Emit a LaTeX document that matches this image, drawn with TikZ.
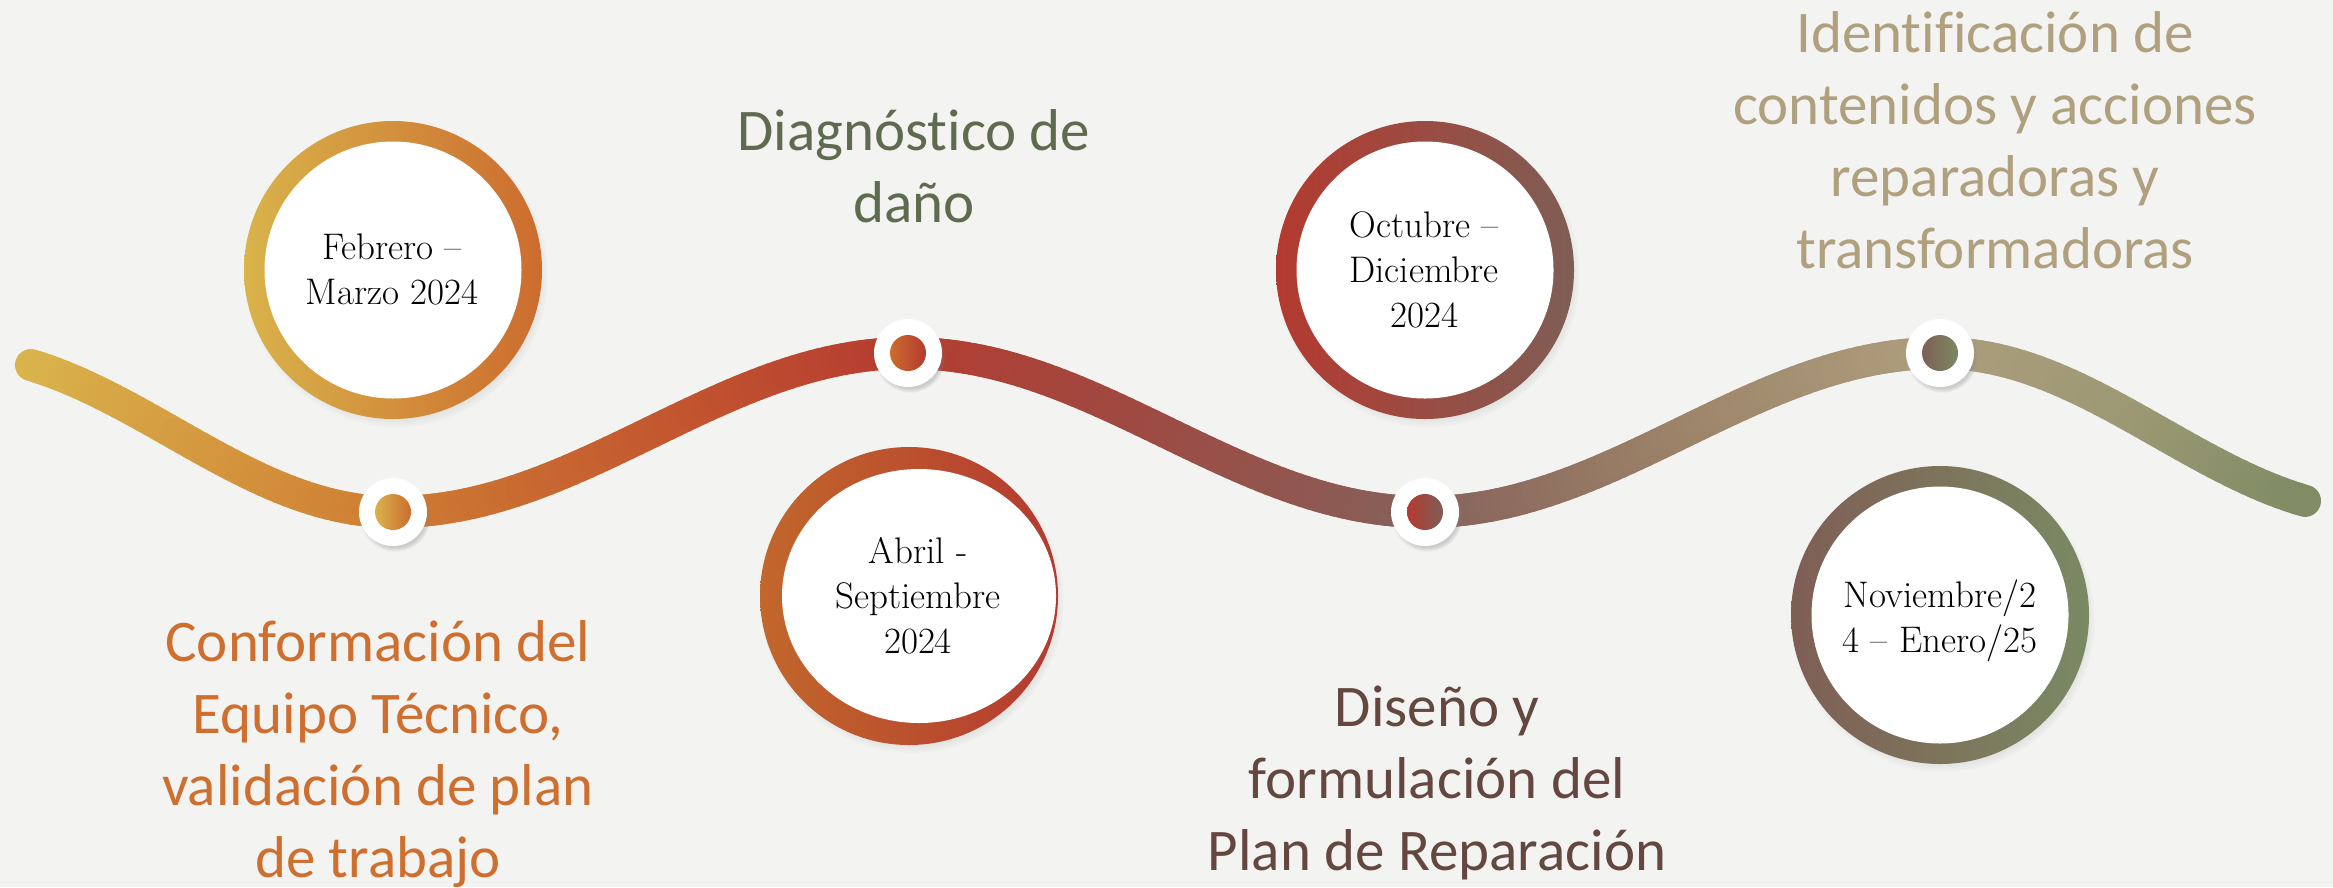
\documentclass[tikz,border=0pt]{standalone}
\usepackage{fontspec}
\newfontfamily\labfont[Ligatures={NoCommon}]{Carlito}
\usetikzlibrary{shadows,shapes.geometric,fadings}

\definecolor{bgc}{HTML}{F3F3F2}
\definecolor{cGold}{HTML}{D9B34B}
\definecolor{cOrange}{HTML}{CC6C2E}
\definecolor{cRed}{HTML}{B43A30}
\definecolor{cBrown}{HTML}{7F5E55}
\definecolor{cGreen}{HTML}{7A8A63}
\definecolor{w0}{HTML}{DAB44B}
\definecolor{w1}{HTML}{CF7D33}
\definecolor{w2}{HTML}{C2542F}
\definecolor{w3}{HTML}{B53C30}
\definecolor{w4}{HTML}{9E4A42}
\definecolor{w5}{HTML}{86605A}
\definecolor{w6}{HTML}{9D8569}
\definecolor{w7}{HTML}{AE9E7E}
\definecolor{w8}{HTML}{9B9873}
\definecolor{w9}{HTML}{7F8C64}
\definecolor{tOrange}{HTML}{CF6F2F}
\definecolor{tOlive}{HTML}{5F6B4F}
\definecolor{tBrown}{HTML}{644840}
\definecolor{tTan}{HTML}{B0A07E}

\pgfmathdeclarefunction{wavey}{1}{%
  \begingroup
  \pgfmathparse{(#1<393) ? (432.5+79.5*cos((393-#1)/440*180)) : ((#1<908) ? (432.5+79.5*cos((#1-393)/515*180)) : ((#1<1425) ? (432.5-79.5*cos((#1-908)/517*180)) : ((#1<1940) ? (432.5+79.5*cos((#1-1425)/515*180)) : (432.5-79.5*cos((#1-1940)/440*180)))))}%
  \pgfmathsmuggle\pgfmathresult
  \endgroup}

\tikzset{
  wave/.style={line width=32pt, line cap=round},
  ring/.style={circle, minimum size=298pt, inner sep=0pt,
    circular drop shadow={shadow xshift=3pt, shadow yshift=-5pt, shadow scale=1.02, opacity=0.35}},
  hole/.style={circle, fill=white, minimum size=257pt, inner sep=0pt},
  dotw/.style={circle, fill=white, minimum size=68pt, inner sep=0pt,
    circular drop shadow={shadow xshift=2pt, shadow yshift=-4pt, shadow scale=1.05, opacity=0.35}},
  doti/.style={circle, minimum size=36pt, inner sep=0pt},
  lab/.style={font={\labfont\fontsize{59}{72}\selectfont}, align=center, anchor=base, inner sep=0pt},
  dtxt/.style={font={\fontsize{37}{45}\selectfont}, align=center, anchor=base, inner sep=0pt, text=black}
}

\begin{document}
\begin{tikzpicture}[x=1pt, y=-1pt]
\useasboundingbox (0,0) rectangle (2333,887);
\fill[bgc] (0,0) rectangle (2333,887);

% wave
\foreach \xa/\xb/\ca/\cb in {31/393/w0/w1, 393/700/w1/w2, 700/908/w2/w3, 908/1150/w3/w4, 1150/1425/w4/w5, 1425/1700/w5/w6, 1700/1940/w6/w7, 1940/2150/w7/w8, 2150/2305/w8/w9}{
  \pgfmathtruncatemacro\nseg{(\xb-\xa)/8}
  \foreach \i in {1,...,\nseg}{
    \pgfmathsetmacro\xs{\xa+(\xb-\xa)/\nseg*(\i-1)}
    \pgfmathsetmacro\xe{\xa+(\xb-\xa)/\nseg*\i}
    \pgfmathtruncatemacro\pc{100*(\i-0.5)/\nseg}
    \pgfmathsetmacro\ys{wavey(\xs)}
    \pgfmathsetmacro\ye{wavey(\xe)}
    \draw[wave, draw=\cb!\pc!\ca] (\xs,\ys) -- (\xe,\ye);
  }
}

% dots on the wave
\node[dotw] (d1) at (393,512) {};
\node[doti, left color=cGold, right color=cOrange] (d1i) at (d1) {};
\node[dotw] (d2) at (908,353) {};
\node[doti, left color=cOrange, right color=cRed] (d2i) at (d2) {};
\node[dotw] (d3) at (1425,512) {};
\node[doti, left color=cRed, right color=cBrown] (d3i) at (d3) {};
\node[dotw] (d4) at (1940,353) {};
\node[doti, left color=cBrown, right color=cGreen] (d4i) at (d4) {};

% date circles
\node[ring, left color=cGold, right color=cOrange] (c1) at (393,270) {};
\node[hole] (h1) at (c1) {};
\node[dtxt] (t1) at (392,304) {Febrero –\\Marzo 2024};

\node[ring, left color=cOrange!95!black, right color=cRed] (c2) at (909,596) {};
\node[ellipse, fill=white, minimum width=274pt, minimum height=254pt, inner sep=0pt] (h2) at (919,596) {};
\node[dtxt] (t2) at (918,653) {Abril -\\Septiembre\\2024};

\node[ring, left color=cRed, right color=cBrown] (c3) at (1425,270) {};
\node[hole] (h3) at (c3) {};
\node[dtxt] (t3) at (1424,327) {Octubre –\\Diciembre\\2024};

\node[ring, left color=cBrown, right color=cGreen] (c4) at (1940,615) {};
\node[hole] (h4) at (c4) {};
\node[dtxt] (t4) at (1940,652) {Noviembre/2\\4 – Enero/25};

% labels
\node[lab, text=tOrange] (l1) at (378,877) {Conformación del\\Equipo Técnico,\\validación de plan\\de trabajo};
\node[lab, text=tOlive] (l2) at (914,222) {Diagnóstico de\\daño};
\node[lab, text=tBrown] (l3) at (1437,870) {Diseño y\\formulación del\\Plan de Reparación};
\node[lab, text=tTan] (l4) at (1995,268) {Identificación de\\contenidos y acciones\\reparadoras y\\transformadoras};
\end{tikzpicture}
\end{document}
